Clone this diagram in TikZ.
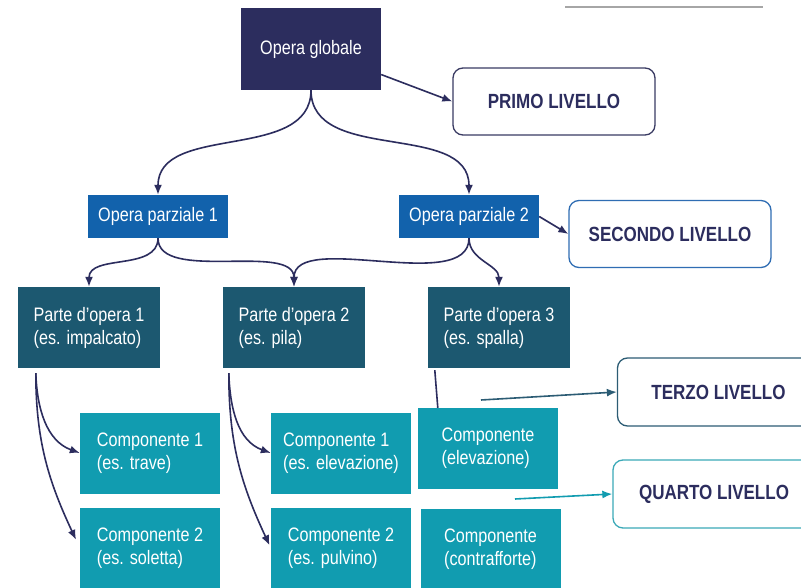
\documentclass[tikz,border=0pt]{standalone}
\usepackage{fontspec}
\setmainfont{Liberation Sans}[FakeStretch=0.83]
\usetikzlibrary{arrows.meta}
\definecolor{navy}{HTML}{2C2D5E}
\definecolor{opblue}{HTML}{1262AC}
\definecolor{parteteal}{HTML}{1C5870}
\definecolor{compteal}{HTML}{119CB0}
\definecolor{terzoc}{HTML}{2C5C74}
\definecolor{quartoc}{HTML}{3BA9B8}
\definecolor{secondoc}{HTML}{2F6DB3}
\definecolor{primoc}{HTML}{3A3B63}
\begin{document}
\begin{tikzpicture}[x=1pt,y=1pt,
 box/.style={rectangle, inner sep=0pt, text=white, font=\fontsize{19.5}{23}\selectfont, align=left},
 glob/.style={box, fill=navy, minimum width=140pt, minimum height=82pt},
 parz/.style={box, fill=opblue, minimum width=140pt, minimum height=43pt},
 parte/.style={box, fill=parteteal, minimum width=142pt, minimum height=81pt},
 comp/.style={box, fill=compteal, minimum width=140pt, minimum height=81pt},
 level/.style={rectangle, rounded corners=10pt, draw, line width=1.3pt, fill=white, text=navy, minimum width=202pt, minimum height=67pt, font=\fontsize{20.5}{23}\selectfont\bfseries},
 arr/.style={draw=navy, line width=1.6pt, -{Latex[length=10pt,width=8pt]}},
]
\useasboundingbox (0,0) rectangle (801,-588);
\fill[white] (0,0) rectangle (801,-588);
% top gray rule
\draw[gray!70, line width=1.2pt] (565,-7) -- (763,-7);

% nodes
\node[glob] (og) at (311,-49) {Opera globale};
\node[level, draw=primoc] (primo) at (554,-101.5) {PRIMO LIVELLO};
\node[parz] (op1) at (158,-216.5) {Opera parziale 1};
\node[parz] (op2) at (469,-216.5) {Opera parziale 2};
\node[level, draw=secondoc] (secondo) at (670,-234) {SECONDO LIVELLO};
\node[parte] (p1) at (89,-327.5) {Parte d’opera 1\\(es. impalcato)};
\node[parte] (p2) at (294,-327.5) {Parte d’opera 2\\(es. pila)};
\node[parte] (p3) at (499,-327.5) {Parte d’opera 3\\(es. spalla)};
\node[comp] (c11) at (150,-453) {Componente 1\\(es. trave)};
\node[comp] (c12) at (150,-548) {Componente 2\\(es. soletta)};
\node[comp] (c21) at (341,-453) {Componente 1\\(es. elevazione)};
\node[comp] (c22) at (341,-548) {Componente 2\\(es. pulvino)};
\node[comp] (c31) at (488,-448.5) {Componente\\(elevazione)};
\node[comp] (c32) at (490.5,-549.5) {Componente\\(contrafforte)};
\node[level, draw=terzoc, minimum height=68pt] (terzo) at (718.5,-392) {TERZO LIVELLO};
\node[level, draw=quartoc, minimum height=68pt] (quarto) at (714,-494) {QUARTO LIVELLO};

% connectors
\draw[arr] (og.south) to[out=-90,in=90] (op1.north);
\draw[arr] (og.south) to[out=-90,in=90] (op2.north);
\draw[arr] (og.-20) -- (primo.west);
\draw[arr] (op2.east) -- (secondo.west);
\draw[arr] (op1.south) to[out=-90,in=90] (p1.north);
\draw[arr] (op1.south) to[out=-90,in=90,looseness=0.8] (p2.north);
\draw[arr] (op2.south) to[out=-90,in=90,looseness=0.8] (p2.north);
\draw[arr] (op2.south) to[out=-90,in=90] (p3.north);

\coordinate (p1s) at ([xshift=18pt,yshift=-5pt]p1.south west);
\coordinate (p2s) at ([xshift=6pt,yshift=-5pt]p2.south west);
\draw[arr] (p1s) to[out=-88,in=160] (c11.west);
\draw[arr, shorten >=9pt] (p1s) to[out=-90,in=115] (c12.west);
\draw[arr] (p2s) to[out=-88,in=160] (c21.west);
\draw[arr, shorten >=3pt] (p2s) to[out=-90,in=115] (c22.west);
\draw[navy, line width=1.6pt] ([xshift=7pt,yshift=-2pt]p3.south west) -- ([xshift=20pt]c31.north west);

\coordinate (t3) at (481,-400);
\coordinate (t4) at (515,-499);
\draw[line width=1.6pt, draw=terzoc, -{Latex[length=10pt,width=8pt]}] (t3) -- (terzo.west);
\draw[line width=1.6pt, draw=compteal, -{Latex[length=10pt,width=8pt]}] (t4) -- (quarto.west);
\end{tikzpicture}
\end{document}
